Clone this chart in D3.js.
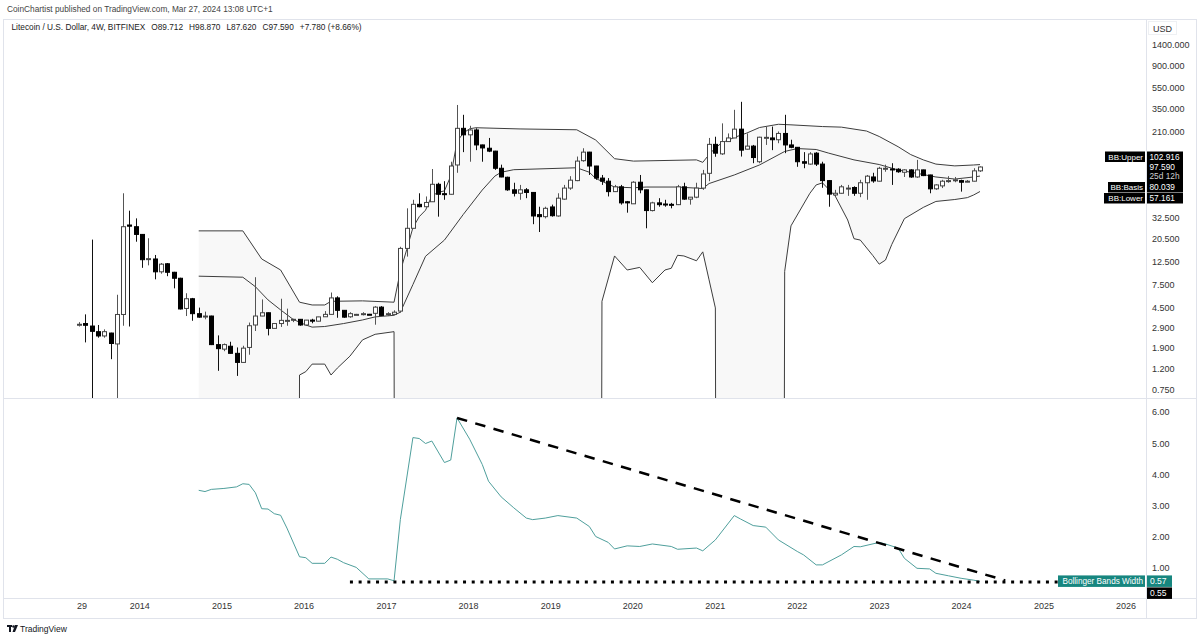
<!DOCTYPE html>
<html>
<head>
<meta charset="utf-8">
<script src="https://cdn.jsdelivr.net/npm/d3@7"></script>
<style>
  body { margin: 0; background: #fff; }
  svg text { font-family: "Liberation Sans", Arial, sans-serif; }
</style>
</head>
<body>
<div class="chart"></div>
<script>
// LTC/USD 4W candles, Bitfinex
const startDate = Date.UTC(2013, 3, 8);
const candleDate = i => new Date(startDate + i * 28 * 864e5);

const opens = [3.12,3.20,3.03,2.68,2.44,2.60,2.05,3.90,27.5,26.5,
  22.4,13.0,13.1,9.9,11.8,9.8,8.6,4.45,5.5,3.97,
  3.70,3.77,2.02,1.83,1.95,1.67,1.37,1.90,3.10,3.77,
  4.05,2.88,3.20,3.40,3.48,3.51,3.10,3.45,3.37,3.71,
  3.91,5.60,4.27,3.71,3.90,3.95,3.92,4.00,4.58,3.95,
  3.91,4.20,16.5,25.6,43.2,41.0,45.7,66.9,54.5,53.8,
  102,227,197,219,158,147,138,94.9,78,59.3,
  55,59.3,56,34.5,33,40.8,33.5,48.4,61.6,72.5,
  112,135,99.7,76.6,71.6,57,63.3,45.7,43.7,70,
  59.3,37.7,44.6,43.5,43.2,42.9,63.3,48.4,50.5,61.6,
  85,160,130,170,184,223,144,154,109.5,186,
  184,177,203,158,150,109.5,104,132,104,72.5,
  53,55,61,62.4,55,69.2,78.5,71.6,94.5,93.5,
  93,87,91.6,78.5,91.6,82,60.6,64.6,72.3,73.5,
  72.5,71.5,71.6,89.712];
const highs = [3.30,3.91,20.0,3.10,2.82,2.62,6.00,55.0,37.6,31.8,
  22.6,20.6,14.3,12.0,12.0,9.9,8.7,6.2,5.6,4.53,
  4.15,3.80,2.47,2.07,2.15,1.90,1.97,3.27,8.80,5.42,
  4.07,3.21,5.50,4.43,3.55,3.53,3.46,3.55,3.71,4.20,
  6.30,5.80,4.28,4.10,3.95,4.10,3.95,4.68,4.68,4.10,
  4.27,17.1,39.6,47.7,55.0,51.3,93.4,69.2,71.6,109.5,
  378,305,240,227,159,184,139,102.7,79,69.2,
  66,61.6,56.5,41,41,42.9,55,66,79.9,122.6,
  147,136,100,82,76.6,66,66,46.5,71.6,82,
  59.5,45.7,49.4,47.7,44.6,66,69.2,50.7,69.2,91.6,
  184,189,253,203,340,405,203,158,189,236,
  236,212,305,177,151,135,135,135,109.5,73.5,
  59.3,66,66,64,73.8,82,86,98,102.7,106,
  95,93,93,114,92,82.5,67,73.8,79.9,78.5,
  74,73.5,95,98.87];
const lows = [3.00,2.12,0.50,2.35,2.35,1.47,0.40,3.05,3.00,19.1,
  10.8,11.4,8.4,9.5,9.0,6.9,4.35,3.77,3.4,3.63,
  3.51,2.00,1.14,1.75,1.66,1.02,1.36,1.62,2.72,3.76,
  2.47,2.87,2.97,3.05,3.30,3.05,3.05,3.22,3.36,3.70,
  3.90,3.63,3.63,3.63,3.87,3.82,3.87,3.12,3.77,3.77,
  3.90,4.05,13.8,25.5,40.5,40.8,45.5,33.0,47.7,53.5,
  86,135,109.5,141,109.5,135,91.6,78,58,51.3,
  47.7,49.4,28,23.6,31.8,33,33,47.7,59.3,71.6,
  109.5,82,73.8,66,51.3,56.5,42.9,36,43.5,55,
  25.6,37,41,41,39.6,42.5,47.7,42.9,49.4,59.3,
  71.6,122,127,169,183,122.6,143,106,106,158,
  141,164,132,147,98,95,102.7,99.7,62,41,
  51.3,54.5,52,52,50.5,47.7,69.2,71.2,88,66,
  86,78.5,77,77,80,55,59.3,61.6,69.2,70,
  57,70,71.2,87.62];
const closes = [3.15,3.08,2.70,2.44,2.68,2.07,3.90,26.5,26.8,22.4,
  12.9,13.2,9.9,11.7,9.8,8.6,4.4,5.5,3.97,3.68,
  3.77,2.02,1.85,2.02,1.67,1.37,1.87,3.05,3.77,4.05,
  2.88,3.20,3.43,3.43,3.51,3.10,3.45,3.37,3.70,3.91,
  5.60,4.27,3.68,3.97,3.91,3.97,3.91,4.58,3.82,3.97,
  4.10,16.5,25.6,43.2,41.0,45.0,66.9,53.8,53.8,99.7,
  227,197,219,158,148,138,94.9,78.5,59.3,55,
  59.3,56,33.5,33,39.6,33.7,49.4,61.6,73.2,111,
  135,99.7,76.6,71.6,57,63.3,44.6,44.6,70,59.3,
  37.7,44.6,42.9,43.2,42.9,63.3,48.4,50.5,61.6,83.8,
  160,132,170,184,223,141,154,120,187,186.5,
  177,203,158,150,109.5,106,129.7,104,72.5,54,
  55,63.3,61.6,55,69.2,79.9,72,94.9,94.9,93,
  88,91.6,78.5,91.6,80.9,60.6,66,71.6,72.5,73.8,
  70,71.6,89.7,97.59];

// Bollinger bands [candle index, value]; null = below zero / off the log scale
const upperBand = [[19,24.2],[26,24.2],[29,13.1],[32,10.3],[35,5.1],[37,4.8],[39,4.8],[40,5.2],[45,5.25],[50,5.1],
  [51,10],[52,16],[53,26],[54,33],[55,38],[56,52],[57,56],[58,58],[59,80],[60,170],[61,205],[62,225],[63,230],
  [70,224],[79,220],[82,176],[85,117],[88,111],[98,114],[99,108],[100,128],[101,148],[102,165],[104,186],[106,205],
  [108,231],[111,248],[113,245],[118,236],[121,233],[125,214],[127,190],[130,152],[132,128],[134,114],[136,104],
  [139,100],[142,102],[143,102.916]];
const basisBand = [[19,9.0],[26,8.8],[28,7.15],[30,5.36],[32,4.31],[34,3.5],[36,3.10],[37,2.96],[39,3.0],[42,3.2],
  [45,3.46],[47,3.7],[50,3.83],[51,4.1],[53,7.5],[55,13.9],[58,19.8],[61,34.7],[64,59],[66,80],[67,87],[69,92],
  [79,96],[81,87],[82,76],[85,63],[88,62],[90,63],[95,63],[99,61],[100,68],[104,82],[108,102],[112,137],[114,146],
  [117,143],[119,132],[123,114],[127,103],[130,91.4],[133,85],[136,78.5],[139,75],[142,78.5],[143,80.039]];
const lowerBand = [[19,null],[34,null],[35,1.04],[36,1.12],[37,1.32],[39,1.32],[40,1.04],[41,1.21],[43,1.57],[45,2.24],
  [47,2.53],[50,2.68],[51,null],[82,null],[83,5.2],[85,14.0],[87,10.3],[89,10.9],[91,7.8],[93,10.3],[94,10.7],
  [95,14.2],[96,14.0],[98,12.6],[99,15.3],[100,8.3],[101,4.5],[102,null],[111,null],[112,10],[113,27],[116,55],
  [117,66],[118,69],[120,52],[122,30.7],[123,20.4],[124,19.8],[126,14.1],[127,11.7],[128,12.8],[129,18],[131,31.6],
  [134,40.4],[136,46],[139,48],[141,50],[142,53],[143,57.161]];

// Bollinger Bands Width [candle index, value]
const bbWidth = [[19,3.49],[20,3.45],[21,3.52],[23,3.55],[25,3.60],[26,3.70],[27,3.68],[28,3.41],[29,2.90],[30,2.89],
  [31,2.74],[32,2.69],[33,2.28],[35,1.36],[36,1.33],[37,1.15],[39,1.15],[40,1.35],[41,1.28],[42,1.17],[44,1.02],
  [46,0.65],[49,0.65],[50,0.59],[51,2.55],[53,5.18],[54,5.15],[55,4.99],[56,5.07],[58,4.38],[59,4.46],[60,5.81],
  [62,5.13],[64,4.32],[65,3.78],[67,3.28],[69,2.93],[71,2.60],[72,2.55],[74,2.60],[76,2.68],[79,2.60],[81,2.33],
  [82,2.01],[84,1.82],[85,1.61],[87,1.71],[89,1.69],[91,1.77],[94,1.69],[95,1.60],[98,1.64],[99,1.55],[101,1.90],
  [104,2.68],[105,2.57],[107,2.36],[109,2.31],[111,1.90],[114,1.53],[115,1.42],[117,1.10],[118,1.10],[121,1.42],
  [123,1.69],[124,1.68],[127,1.82],[128,1.77],[130,1.64],[131,1.31],[133,0.99],[135,0.97],[136,0.83],[138,0.75],
  [140,0.67],[142,0.61],[143,0.57]];

// drawings on the width pane
const trendLine = [[60, 5.81], [147, 0.6]];
const supportLevel = 0.55, supportFrom = 43;

const priceTicks = [1400, 900, 550, 350, 210, 32.5, 20.5, 12.5, 7.5, 4.5, 2.9, 1.9, 1.2, 0.75];
const widthTicks = [1, 2, 3, 4, 5, 6];
const timeTickLabels = ['29','2014','2015','2016','2017','2018','2019','2020','2021','2022','2023','2024','2025','2026'];
const timeTickDates = [Date.UTC(2013,3,19)].concat(d3.range(2014, 2027).map(y => Date.UTC(y, 0, 1))).map(t => new Date(t));

const legendParts = ['Litecoin / U.S. Dollar, 4W, BITFINEX', 'O89.712', 'H98.870', 'L87.620', 'C97.590', '+7.780 (+8.66%)'];

const W = 1200, H = 638;
const pane = {left: 4, right: 1146, top: 20, bottom: 398};
const sub = {top: 399, bottom: 598};

const svg = d3.select('.chart').append('svg').attr('width', W).attr('height', H);

const x = d3.scaleTime().domain([candleDate(0), candleDate(143)]).range([79, 980]);
const yP = d3.scaleLog().domain([0.75, 1400]).range([390, 45]);
const yB = d3.scaleLinear().domain([0, 6]).range([599.2, 412]);

const defs = svg.append('defs');
defs.append('clipPath').attr('id', 'clipMain').append('rect')
  .attr('x', pane.left).attr('y', pane.top).attr('width', pane.right - pane.left).attr('height', pane.bottom - pane.top);
defs.append('clipPath').attr('id', 'clipSub').append('rect')
  .attr('x', pane.left).attr('y', sub.top).attr('width', pane.right - pane.left).attr('height', sub.bottom - sub.top);

// header
svg.append('text').attr('x', 7).attr('y', 12).attr('font-size', 8.3).attr('fill', '#444')
  .text('CoinChartist published on TradingView.com, Mar 27, 2024 13:08 UTC+1');

// frame and separators
const frame = svg.append('g').attr('stroke', '#e0e3eb').attr('fill', 'none');
frame.append('rect').attr('x', 3.5).attr('y', 19.5).attr('width', 1193).attr('height', 599);
frame.append('line').attr('x1', 3.5).attr('x2', 1196.5).attr('y1', 398.5).attr('y2', 398.5);
frame.append('line').attr('x1', 3.5).attr('x2', 1196.5).attr('y1', 598.5).attr('y2', 598.5);
frame.append('line').attr('x1', 1146.5).attr('x2', 1146.5).attr('y1', 19.5).attr('y2', 618.5);

// bands
const bx = d => x(candleDate(d[0]));
const by = d => d[1] == null ? 3000 : yP(d[1]);
const bandLine = d3.line().x(bx).y(by);
const main = svg.append('g').attr('clip-path', 'url(#clipMain)');
main.append('path')
  .attr('d', bandLine(upperBand.concat(lowerBand.slice().reverse())) + 'Z')
  .attr('fill', '#f8f8f8');
[upperBand, basisBand, lowerBand].forEach(b => {
  main.append('path').attr('d', bandLine(b)).attr('fill', 'none')
    .attr('stroke', '#3d3d3d').attr('stroke-width', 1);
});

// candles
const candles = opens.map((o, i) => ({date: candleDate(i), o: o, h: highs[i], l: lows[i], c: closes[i]}));
const cx = d => Math.round(x(d.date));
main.selectAll('line.wick').data(candles).enter().append('line').attr('class', 'wick')
  .attr('x1', d => cx(d) + 0.5).attr('x2', d => cx(d) + 0.5)
  .attr('y1', d => yP(d.h)).attr('y2', d => yP(d.l))
  .attr('stroke', d => d.c >= d.o ? '#555' : '#111').attr('stroke-width', 1);
main.selectAll('rect.body').data(candles).enter().append('rect').attr('class', 'body')
  .attr('x', d => cx(d) - 1.5).attr('width', 4)
  .attr('y', d => yP(Math.max(d.o, d.c)))
  .attr('height', d => Math.max(1, yP(Math.min(d.o, d.c)) - yP(Math.max(d.o, d.c))))
  .attr('fill', d => d.c >= d.o ? '#fff' : '#000')
  .attr('stroke', d => d.c >= d.o ? '#444' : '#000').attr('stroke-width', 1);

// legend: parts laid out one after another
let lx = 11.5;
legendParts.forEach(p => {
  const t = svg.append('text').attr('x', lx).attr('y', 30).attr('font-size', 8.3).attr('fill', '#222').text(p);
  lx += t.node().getComputedTextLength() + 6;
});

// price axis
const pAxis = svg.append('g').attr('transform', 'translate(1146,0)')
  .call(d3.axisRight(yP).tickValues(priceTicks).tickFormat(d3.format('.3f')).tickSize(0).tickPadding(6));
pAxis.select('.domain').remove();
pAxis.selectAll('text').attr('font-size', 9).attr('fill', '#333').attr('font-family', null);

svg.append('rect').attr('x', 1148.5).attr('y', 21.5).attr('width', 28).attr('height', 13)
  .attr('fill', '#fff').attr('stroke', '#eef0f3');
svg.append('text').attr('x', 1153).attr('y', 31.5).attr('font-size', 9).attr('fill', '#333').text('USD');

// band value labels
const tagRows = [
  {name: 'BB:Upper', value: upperBand[upperBand.length - 1][1], y: 151.5, nx: 1105},
  {name: 'BB:Basis', value: basisBand[basisBand.length - 1][1], y: 182, nx: 1108},
  {name: 'BB:Lower', value: lowerBand[lowerBand.length - 1][1], y: 193, nx: 1104}
];
const tags = svg.append('g');
tagRows.forEach(t => {
  tags.append('rect').attr('x', t.nx).attr('y', t.y).attr('width', 1145 - t.nx).attr('height', 10.5).attr('fill', '#000');
  tags.append('text').attr('x', 1143).attr('y', t.y + 8.2).attr('text-anchor', 'end')
    .attr('font-size', 8).attr('fill', '#fff').text(t.name);
  tags.append('rect').attr('x', 1147).attr('y', t.y).attr('width', 36).attr('height', 10.5).attr('fill', '#000');
  tags.append('text').attr('x', 1149.5).attr('y', t.y + 8.2).attr('font-size', 8.3).attr('fill', '#fff').text(d3.format('.3f')(t.value));
});
tags.append('rect').attr('x', 1147).attr('y', 162).attr('width', 36).attr('height', 20).attr('fill', '#000');
tags.append('text').attr('x', 1149.5).attr('y', 170.3).attr('font-size', 8.3).attr('fill', '#fff')
  .text(d3.format('.3f')(closes[closes.length - 1]));
tags.append('text').attr('x', 1149.5).attr('y', 179.3).attr('font-size', 8.3).attr('fill', '#d0d0d0').text('25d 12h');

// width pane
const lower = svg.append('g').attr('clip-path', 'url(#clipSub)');
const wLine = d3.line().x(d => x(candleDate(d[0]))).y(d => yB(d[1]));
lower.append('path').attr('d', wLine(bbWidth)).attr('fill', 'none')
  .attr('stroke', '#4f9f9c').attr('stroke-width', 1);
lower.append('line')
  .attr('x1', x(candleDate(supportFrom))).attr('x2', pane.right)
  .attr('y1', yB(supportLevel)).attr('y2', yB(supportLevel))
  .attr('stroke', '#000').attr('stroke-width', 3).attr('stroke-dasharray', '3,5.7');
lower.append('path').attr('d', wLine(trendLine)).attr('fill', 'none')
  .attr('stroke', '#000').attr('stroke-width', 2.5).attr('stroke-dasharray', '10.5,8.5');

const wAxis = svg.append('g').attr('transform', 'translate(1146,0)')
  .call(d3.axisRight(yB).tickValues(widthTicks).tickFormat(d3.format('.2f')).tickSize(0).tickPadding(6));
wAxis.select('.domain').remove();
wAxis.selectAll('text').attr('font-size', 9).attr('fill', '#333').attr('font-family', null);

const teal = '#17867f';
const lastW = bbWidth[bbWidth.length - 1][1];
svg.append('rect').attr('x', 1058).attr('y', yB(lastW) - 6).attr('width', 87).attr('height', 11.5).attr('fill', teal);
svg.append('text').attr('x', 1143).attr('y', yB(lastW) + 3).attr('text-anchor', 'end')
  .attr('font-size', 8.2).attr('fill', '#fff').text('Bollinger Bands Width');
svg.append('rect').attr('x', 1147).attr('y', yB(lastW) - 6).attr('width', 25).attr('height', 11.5).attr('fill', teal);
svg.append('text').attr('x', 1150).attr('y', yB(lastW) + 3).attr('font-size', 8.5).attr('fill', '#fff').text(d3.format('.2f')(lastW));
svg.append('rect').attr('x', 1147).attr('y', yB(lastW) + 6).attr('width', 25).attr('height', 11.5).attr('fill', '#000');
svg.append('text').attr('x', 1150).attr('y', yB(lastW) + 15).attr('font-size', 8.5).attr('fill', '#fff').text(d3.format('.2f')(supportLevel));

// time axis
const tAxis = svg.append('g').attr('transform', 'translate(0,598)')
  .call(d3.axisBottom(x).tickValues(timeTickDates).tickFormat((d, i) => timeTickLabels[i]).tickSize(0).tickPadding(5));
tAxis.select('.domain').remove();
tAxis.selectAll('text').attr('font-size', 9).attr('fill', '#333').attr('font-family', null);

// footer logo
const logo = svg.append('g').attr('transform', 'translate(7,624)');
logo.append('rect').attr('x', 0).attr('y', 1).attr('width', 5).attr('height', 2).attr('fill', '#131722');
logo.append('rect').attr('x', 2).attr('y', 1).attr('width', 2).attr('height', 7).attr('fill', '#131722');
logo.append('circle').attr('cx', 6.5).attr('cy', 2.5).attr('r', 1.3).attr('fill', '#131722');
logo.append('path').attr('d', 'M8,1 L11,1 L8,8 L5.5,8 Z').attr('fill', '#131722');
svg.append('text').attr('x', 20).attr('y', 632).attr('font-size', 8.5).attr('fill', '#131722').text('TradingView');
</script>
</body>
</html>
